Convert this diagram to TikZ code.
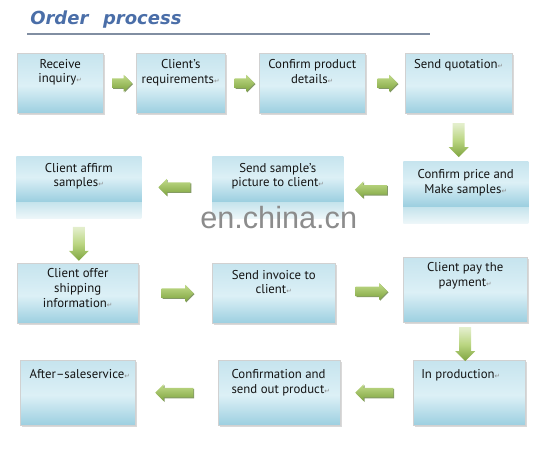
\documentclass[tikz,border=0pt]{standalone}
\usepackage{fontspec}
\setmainfont{PT Sans}
\newfontfamily\titlefont{DejaVu Sans}
\newfontfamily\markfont{DejaVu Sans}
\newfontfamily\wmfont{Liberation Sans}
\usepackage{xcolor}
\usetikzlibrary{positioning,shapes.arrows,shadows}

\definecolor{boxtop}{HTML}{C6E4EE}
\definecolor{boxmid}{HTML}{DCF0F6}
\definecolor{boxlow}{HTML}{9CCFE0}
\definecolor{boxpale}{HTML}{C4E3EC}
\definecolor{arrtop}{HTML}{BBD682}
\definecolor{arrlow}{HTML}{7EA43F}
\definecolor{arrdark}{HTML}{4F6D26}
\definecolor{titleblue}{HTML}{4A6EA8}
\definecolor{txt}{HTML}{141414}

\pgfdeclareverticalshading{bluebox}{100bp}{color(0bp)=(boxlow); color(25bp)=(boxlow);
  color(48bp)=(boxmid); color(75bp)=(boxtop); color(100bp)=(boxtop)}
\pgfdeclareverticalshading{fadebox}{100bp}{color(0bp)=(white); color(25bp)=(white!70!boxpale);
  color(38.4bp)=(boxpale); color(38.6bp)=(boxlow); color(58bp)=(boxmid);
  color(75bp)=(boxtop); color(100bp)=(boxtop)}
\pgfdeclareverticalshading{greenarr}{100bp}{color(0bp)=(arrlow); color(25bp)=(arrlow);
  color(70bp)=(arrtop); color(100bp)=(arrtop)}
\pgfdeclareverticalshading{greendown}{100bp}{color(0bp)=(arrlow); color(25bp)=(arrlow);
  color(50bp)=(arrtop); color(72bp)=(white!55!arrtop); color(100bp)=(white)}

\def\px{0.75pt}
\newcommand{\parmark}{{\markfont\fontsize{5}{5}\selectfont\textcolor{black!45}{↵}}}

\begin{document}
\begin{tikzpicture}[x=0.75pt,y=-0.75pt,
    box/.style={anchor=north west,rectangle,draw=black!18,line width=0.3pt,shading=bluebox,
      drop shadow={shadow xshift=1pt,shadow yshift=-1pt,opacity=0.3}},
    fbox/.style={anchor=north west,rectangle,draw=none,shading=fadebox},
    lbl/.style={font=\fontsize{9.6}{11}\selectfont,text=txt,align=center,inner sep=0pt},
    llbl/.style={lbl,align=left},
    rarr/.style={single arrow,draw=none,shading=greenarr,inner sep=3.4pt,
      minimum height=#1*\px,single arrow head extend=2.7pt,single arrow head indent=0pt,
      drop shadow={shadow xshift=0.7pt,shadow yshift=-0.7pt,fill=arrdark,opacity=0.7}},
    larr/.style={rarr=#1,shape border rotate=180},
    darr/.style={single arrow,draw=none,shading=greendown,inner sep=4.3pt,shape border rotate=270,
      minimum height=34*\px,single arrow head extend=3pt}]

  \path[use as bounding box] (0,0) rectangle (558,459);

  % title
  \node[anchor=base west,inner sep=0pt,text=titleblue,
        font=\titlefont\bfseries\itshape\fontsize{13.5}{16}\selectfont] (title) at (30,25)
        {Order\hspace{11pt}process};
  \coordinate (rl) at (27,34);
  \coordinate (rr) at (430,34);
  \draw[black!40!titleblue!60,line width=0.8pt] (rl) -- (rr);

  % boxes
  \node[box,minimum width=86*\px,minimum height=60*\px] (rec) at (17,53) {};
  \node[box,minimum width=89*\px,minimum height=60*\px] (req) at (136,53) {};
  \node[box,minimum width=106*\px,minimum height=60*\px] (cpd) at (259,53) {};
  \node[box,minimum width=107*\px,minimum height=60*\px] (sq) at (405,53) {};

  \node[fbox,minimum width=125*\px,minimum height=62*\px] (cas) at (16,156) {};
  \node[fbox,minimum width=131*\px,minimum height=62*\px] (ssp) at (212,156) {};
  \node[fbox,minimum width=125*\px,minimum height=62*\px] (cpm) at (403,161) {};

  \node[box,minimum width=121*\px,minimum height=60*\px] (cos) at (17,263) {};
  \node[box,minimum width=123*\px,minimum height=60*\px] (sic) at (212,263) {};
  \node[box,minimum width=124*\px,minimum height=65*\px] (cpp) at (403,257) {};

  \node[box,minimum width=115*\px,minimum height=65*\px] (asr) at (20,360) {};
  \node[box,minimum width=122*\px,minimum height=65*\px] (csp) at (218,360) {};
  \node[box,minimum width=112*\px,minimum height=65*\px] (inp) at (413,360) {};

  % texts
  \node[lbl,below=4.5pt of rec.north] {Receive\\inquiry\parmark};
  \node[lbl,below=4.5pt of req.north] {Client’s\\requirements\parmark};
  \node[lbl,below=4.5pt of cpd.north] {Confirm product\\details\parmark};
  \node[lbl,below=4.5pt of sq.north] {Send quotation\parmark};
  \node[lbl,below=5pt of cas.north] {Client affirm\\samples\parmark};
  \node[lbl,below=5pt of ssp.north] {Send sample’s\\picture to client\parmark};
  \node[lbl,below=6pt of cpm.north] {Confirm price and\\Make samples\parmark};
  \node[lbl,below=4pt of cos.north] {Client offer\\shipping\\information\parmark};
  \node[lbl,below=5pt of sic.north] {Send invoice to\\client\parmark};
  \node[lbl,below=4pt of cpp.north] {Client pay the\\payment\parmark};
  \node[llbl,below right=7pt and 7pt of asr.north west] {After--saleservice\parmark};
  \node[llbl,below right=7pt and 10pt of csp.north west] {Confirmation and\\send out product\parmark};
  \node[llbl,below right=7pt and 6pt of inp.north west] {In production\parmark};

  % watermark
  \node[anchor=base west,inner sep=0pt,text=black!45,font=\wmfont\fontsize{23}{23}\selectfont]
    (wm) at (200,229) {en.china.cn};

  % arrows
  \path (rec) -- node[rarr=20] (a1) {} (req);
  \path (req) -- node[rarr=20] (a2) {} (cpd);
  \path (cpd) -- node[rarr=20] (a3) {} (sq);
  \path (sq.south) -- node[darr] (a4) {} (sq.south |- cpm.north);
  \path (cpm) -- node[larr=32] (a5) {} (ssp);
  \path (ssp) -- node[larr=32] (a6) {} (cas);
  \path (cas.south) -- node[darr] (a7) {} (cas.south |- cos.north);
  \path (cos) -- node[rarr=32] (a8) {} (sic);
  \path (sic) -- node[rarr=32] (a9) {} (cpp);
  \path (cpp.south) -- node[darr] (a10) {} (cpp.south |- inp.north);
  \path (inp) -- node[larr=38] (a11) {} (csp);
  \path (csp) -- node[larr=38] (a12) {} (asr);
\end{tikzpicture}
\end{document}
